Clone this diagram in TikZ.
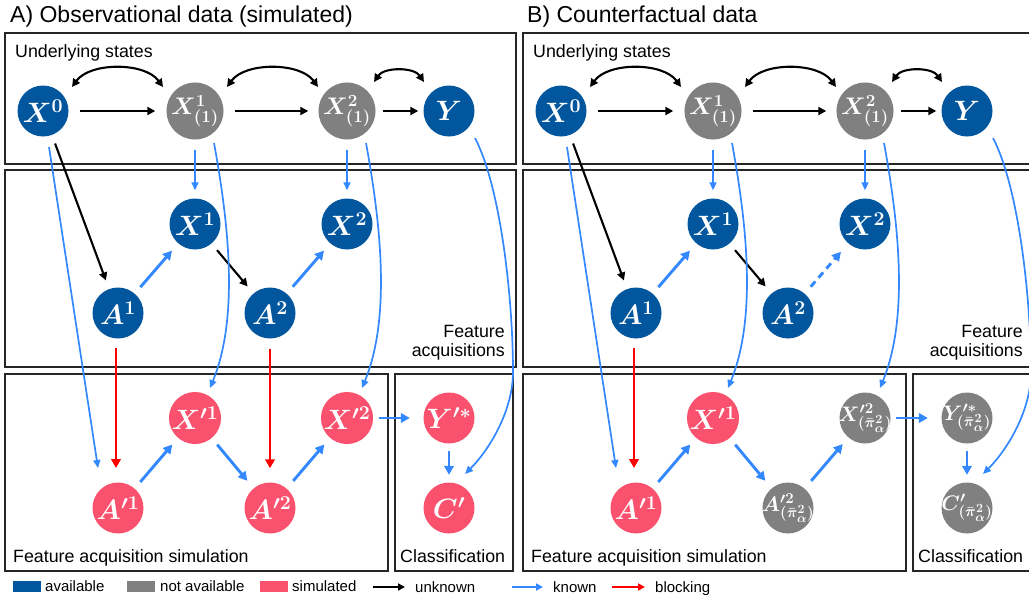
\documentclass[tikz,border=0pt]{standalone}
\usepackage{fix-cm}
\usepackage{fontspec}
\newfontfamily\arial{Liberation Sans}
\usetikzlibrary{arrows.meta}
\DeclareMathSizes{21}{21}{15}{12.5}
\DeclareMathSizes{24}{24}{17}{13}
\definecolor{cblue}{RGB}{2,86,158}
\definecolor{cgray}{RGB}{128,128,128}
\definecolor{cpink}{RGB}{250,82,110}
\definecolor{kblue}{RGB}{51,136,255}
\definecolor{kred}{RGB}{255,0,0}

\newcommand\commonnodes[1]{%
 \node[ndb] (#1X0) at (43,111) {$X^0$};
 \node[ndg,sub] (#1X11) at (195,111) {$X^1_{(1)}$};
 \node[ndg,sub] (#1X21) at (347,111) {$X^2_{(1)}$};
 \node[ndb] (#1Y) at (449,111) {$Y$};
 \node[ndb] (#1X1) at (195,224) {$X^1$};
 \node[ndb] (#1X2) at (347,224) {$X^2$};
 \node[ndb] (#1A1) at (118,313) {$A^1$};
 \node[ndb] (#1A2) at (270,313) {$A^2$};
 \node[ndp] (#1Xp1) at (195,418) {$X'^1$};
 \node[ndp] (#1Ap1) at (118,508) {$A'^1$};
}
\newcommand\commonrest[1]{%
 \draw[box] (5,33) rectangle (516,164);
 \draw[box] (5,170) rectangle (516,367);
 \draw[box] (5,374) rectangle (388,571);
 \draw[box] (395,374) rectangle (513,571);
 \node[lbl,anchor=base west] (#1t1) at (15,57) {Underlying states};
 \node[lbl,anchor=base east] (#1t2) at (505,337) {Feature};
 \node[lbl,anchor=base east] (#1t3) at (505,356) {acquisitions};
 \node[lbl,anchor=base west] (#1t4) at (13,562) {Feature acquisition simulation};
 \node[lbl,anchor=base west] (#1t5) at (400,562) {Classification};
 \draw[unk,shorten <=11pt,shorten >=11pt] (#1X0) -- (#1X11);
 \draw[unk,shorten <=11pt,shorten >=10pt] (#1X11) -- (#1X21);
 \draw[unk,shorten <=7pt,shorten >=5pt] (#1X21) -- (#1Y);
 \draw[dbl] ([shift={(29,-24)}]#1X0.center) .. controls +(18,-25) and +(-18,-25) .. ([shift={(-32,-24)}]#1X11.center);
 \draw[dbl] ([shift={(32,-24)}]#1X11.center) .. controls +(18,-25) and +(-18,-25) .. ([shift={(-29,-24)}]#1X21.center);
 \draw[dbl] ([shift={(27,-29)}]#1X21.center) .. controls +(10,-15) and +(-10,-15) .. ([shift={(-25,-29)}]#1Y.center);
 \draw[kth,shorten <=10pt,shorten >=8pt] (#1X11) -- (#1X1);
 \draw[kth,shorten <=10pt,shorten >=8pt] (#1X21) -- (#1X2);
 \draw[unk,shorten <=9pt,shorten >=9pt] (#1X0) -- (#1A1);
 \draw[kn,shorten <=8.5pt,shorten >=9.5pt] (#1A1) -- (#1X1);
 \draw[unk,shorten <=8.5pt,shorten >=9pt] (#1X1) -- (#1A2);
 \draw[kth] ([shift={(6,36)}]#1X0.center) -- ([shift={(-20,-40)}]#1Ap1.center);
 \draw[kth] ([shift={(19,32)}]#1X11.center) .. controls +(16,87) and +(28,-68) .. ([shift={(15,-30)}]#1Xp1.center);
 \draw[kth] ([shift={(19,32)}]#1X21.center) .. controls +(16,87) and +(28,-68) .. ([shift={(15,-30)}]#1Xp2.center);
 \draw[kth] ([shift={(26,27)}]#1Y.center) .. controls +(26,50) and +(0,-72) .. ([shift={(64,-136)}]#1Cp.center) .. controls +(0,38) and +(25,-25) .. ([shift={(16,-34)}]#1Cp.center);
 \draw[blk,shorten <=35pt,shorten >=40pt] ([xshift=-2pt]#1A1.center) -- ([xshift=-2pt]#1Ap1.center);
 \draw[kn,shorten <=8.6pt,shorten >=8.7pt] (#1Ap1) -- (#1Xp1);
 \draw[kn,shorten <=8.5pt,shorten >=9.7pt] (#1Xp1) -- (#1Ap2);
 \draw[kn,shorten <=10pt,shorten >=8.6pt] (#1Ap2) -- (#1Xp2);
 \draw[kn,shorten <=5.5pt,shorten >=13.5pt] (#1Xp2) -- (#1Yp);
 \draw[kn,shorten <=7.5pt,shorten >=7.5pt] (#1Yp) -- (#1Cp);
}

\begin{document}
\begin{tikzpicture}[x=1pt,y=-1pt,
 nd/.style={circle,minimum size=51pt,inner sep=0pt,text=white,font=\fontsize{28}{28}\selectfont\boldmath},
 ndb/.style={nd,fill=cblue}, ndg/.style={nd,fill=cgray}, ndp/.style={nd,fill=cpink},
 sub/.style={font=\fontsize{24}{24}\selectfont\boldmath},
 subb/.style={font=\fontsize{21}{21}\selectfont\boldmath,text=white,inner sep=0pt},
 box/.style={draw=black!85,line width=1.1pt},
 lbl/.style={font=\arial\fontsize{17.8}{20}\selectfont,inner sep=0pt},
 leg/.style={font=\arial\fontsize{15}{18}\selectfont,inner sep=0pt,anchor=base west},
 ttl/.style={font=\arial\fontsize{23}{26}\selectfont,inner sep=0pt,anchor=base west},
 unk/.style={draw=black,line width=2.1pt,-{Triangle[length=8pt,width=8pt]}},
 dbl/.style={draw=black,line width=2.1pt,{Triangle[length=8pt,width=8pt]}-{Triangle[length=8pt,width=8pt]}},
 kth/.style={draw=kblue,line width=1.7pt,-{Triangle[length=8pt,width=7pt]}},
 kn/.style={draw=kblue,line width=2.9pt,-{Triangle[length=9pt,width=9.5pt]}},
 blk/.style={draw=kred,line width=2.5pt,-{Triangle[length=9pt,width=9.5pt]}},
]
\useasboundingbox (0,0) rectangle (1029,605);
\clip (0,0) rectangle (1029,605);

\node[ttl] (ta) at (10,22) {A) Observational data (simulated)};
\node[ttl] (tb) at (527,22) {B) Counterfactual data};

% Panel A
\commonnodes{a}
\node[ndp] (aXp2) at (347,418) {$X'^2$};
\node[ndp] (aYp) at (449,418) {$Y'^*$};
\node[ndp] (aAp2) at (270,508) {$A'^2$};
\node[ndp] (aCp) at (449,508) {$C'$};
\commonrest{a}
\draw[kn,shorten <=9pt,shorten >=9.5pt] (aA2) -- (aX2);
\draw[blk,shorten <=10pt,shorten >=14pt] (aA2) -- (aAp2);

% Panel B
\begin{scope}[shift={(518,0)}]
\commonnodes{b}
\node[ndg,label={[subb]center:$X'^2_{(\bar\pi^2_\alpha)}$}] (bXp2) at (347,418) {};
\node[ndg,label={[subb]center:$Y'^*_{(\bar\pi^2_\alpha)}$}] (bYp) at (449,418) {};
\node[ndg,label={[subb]center:$A'^2_{(\bar\pi^2_\alpha)}$}] (bAp2) at (270,508) {};
\node[ndg,label={[subb]center:$C'_{(\bar\pi^2_\alpha)}$}] (bCp) at (449,508) {};
\commonrest{b}
\draw[kn,dashed,dash pattern=on 7pt off 5pt,shorten <=9pt,shorten >=11pt] (bA2) -- (bX2);
\end{scope}

% Legend
\fill[cblue] (13,581) rectangle (41,592);
\node[leg] (l1) at (45,591) {available};
\fill[cgray] (127,581) rectangle (155,592);
\node[leg] (l2) at (160,591) {not available};
\fill[cpink] (260,581) rectangle (288,592);
\node[leg] (l3) at (292,591) {simulated};
\coordinate (u1) at (373,587); \coordinate (u2) at (405,587);
\draw[unk,line width=1.8pt,-{Triangle[length=7pt,width=7pt]}] (u1) -- (u2);
\node[leg] (l4) at (415,592) {unknown};
\coordinate (k1) at (512,587); \coordinate (k2) at (543,587);
\draw[kn,line width=2pt,-{Triangle[length=7pt,width=7pt]}] (k1) -- (k2);
\node[leg] (l5) at (553,592) {known};
\coordinate (r1) at (612,587); \coordinate (r2) at (645,587);
\draw[blk,line width=2pt,-{Triangle[length=7pt,width=7pt]}] (r1) -- (r2);
\node[leg] (l6) at (655,592) {blocking};
\end{tikzpicture}
\end{document}
